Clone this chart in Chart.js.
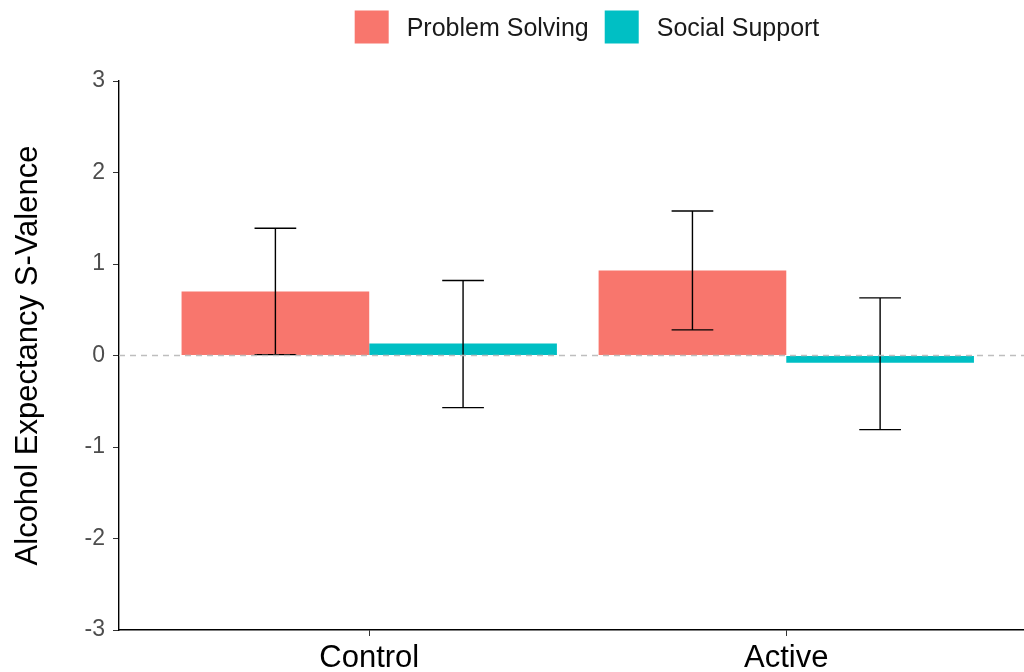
<!DOCTYPE html>
<html lang="en">
<head>
    <meta charset="UTF-8">
    <title>Alcohol Expectancy S-Valence</title>
    <script src="https://cdn.jsdelivr.net/npm/chart.js"></script>
    <style>
        html, body { margin: 0; padding: 0; background: #fff; }
        .chart-container { position: relative; width: 1024px; height: 672px; }
    </style>
</head>
<body>
    <div class="chart-container">
        <canvas id="barChart" width="1024" height="672"></canvas>
    </div>

    <script>
        // Data
        const categories = ['Control', 'Active'];
        const categoryPos = [1, 2];
        const seriesNames = ['Problem Solving', 'Social Support'];
        const seriesColors = ['#F8766D', '#00BFC4'];

        const problemSolving = [0.70, 0.93];
        const problemSolvingLow = [0.01, 0.28];
        const problemSolvingHigh = [1.39, 1.58];

        const socialSupport = [0.13, -0.08];
        const socialSupportLow = [-0.57, -0.81];
        const socialSupportHigh = [0.82, 0.63];

        const yTicks = [-3, -2, -1, 0, 1, 2, 3];

        const fontFamily = 'Arial, "Liberation Sans", sans-serif';

        function toPoints(values) {
            return values.map((v, i) => ({ x: categoryPos[i], y: v }));
        }

        // Error bars drawn through the chart's own scales
        const errorBars = {
            id: 'errorBars',
            afterDatasetsDraw(chart) {
                const ctx = chart.ctx;
                const y = chart.scales.y;
                ctx.save();
                ctx.strokeStyle = '#000';
                ctx.lineWidth = 1.4;
                chart.data.datasets.forEach((ds, di) => {
                    const meta = chart.getDatasetMeta(di);
                    meta.data.forEach((bar, i) => {
                        const x = bar.x;
                        const hw = (chart.scales.x.getPixelForValue(1.05) - chart.scales.x.getPixelForValue(1));
                        const yLo = y.getPixelForValue(ds.errLow[i]);
                        const yHi = y.getPixelForValue(ds.errHigh[i]);
                        ctx.beginPath();
                        ctx.moveTo(x, yLo); ctx.lineTo(x, yHi);
                        ctx.moveTo(x - hw, yLo); ctx.lineTo(x + hw, yLo);
                        ctx.moveTo(x - hw, yHi); ctx.lineTo(x + hw, yHi);
                        ctx.stroke();
                    });
                });
                // dashed reference line at zero
                const y0 = y.getPixelForValue(0);
                ctx.strokeStyle = '#BEBEBE';
                ctx.lineWidth = 1.5;
                ctx.setLineDash([6, 5]);
                ctx.beginPath();
                ctx.moveTo(chart.chartArea.left, y0);
                ctx.lineTo(chart.chartArea.right, y0);
                ctx.stroke();
                ctx.restore();
            }
        };

        // Legend at the top, ggplot style
        const topLegend = {
            id: 'topLegend',
            afterDraw(chart) {
                const ctx = chart.ctx;
                ctx.save();
                ctx.font = '25px ' + fontFamily;
                ctx.textBaseline = 'middle';
                const box = 34, gapText = 18, gapItem = 16;
                const widths = seriesNames.map(n => ctx.measureText(n).width);
                let total = 0;
                widths.forEach((w, i) => { total += box + gapText + w + (i < widths.length - 1 ? gapItem : 0); });
                let x = 587 - total / 2;
                const yc = 27;
                seriesNames.forEach((name, i) => {
                    ctx.fillStyle = seriesColors[i];
                    ctx.fillRect(x, yc - 16.5, box, 33);
                    x += box + gapText;
                    ctx.fillStyle = '#1A1A1A';
                    ctx.fillText(name, x, yc + 2);
                    x += widths[i] + gapItem;
                });
                ctx.restore();
            }
        };

        const ctx = document.getElementById('barChart').getContext('2d');
        new Chart(ctx, {
            type: 'bar',
            data: {
                datasets: [
                    {
                        label: seriesNames[0],
                        data: toPoints(problemSolving),
                        errLow: problemSolvingLow,
                        errHigh: problemSolvingHigh,
                        backgroundColor: seriesColors[0],
                        categoryPercentage: 0.9,
                        barPercentage: 1.0
                    },
                    {
                        label: seriesNames[1],
                        data: toPoints(socialSupport),
                        errLow: socialSupportLow,
                        errHigh: socialSupportHigh,
                        backgroundColor: seriesColors[1],
                        categoryPercentage: 0.9,
                        barPercentage: 1.0
                    }
                ]
            },
            options: {
                responsive: false,
                animation: false,
                devicePixelRatio: 1,
                layout: { padding: { top: 81, right: 0, left: 0, bottom: 0 } },
                plugins: {
                    legend: { display: false },
                    tooltip: { enabled: false }
                },
                scales: {
                    x: {
                        type: 'linear',
                        min: 0.4,
                        max: 2.57,
                        offset: false,
                        afterBuildTicks(scale) {
                            scale.ticks = categoryPos.map(v => ({ value: v }));
                        },
                        afterFit(scale) { scale.height = 42; },
                        grid: {
                            offset: false,
                            drawOnChartArea: false,
                            drawTicks: true,
                            tickLength: 6,
                            tickColor: '#333'
                        },
                        border: { display: true, color: '#000', width: 1.4 },
                        ticks: {
                            autoSkip: false,
                            maxRotation: 0,
                            padding: 4,
                            color: '#000',
                            font: { family: fontFamily, size: 31 },
                            callback: (v) => categories[categoryPos.indexOf(v)] || ''
                        }
                    },
                    y: {
                        min: -3,
                        max: 3,
                        afterBuildTicks(scale) {
                            scale.ticks = yTicks.map(v => ({ value: v }));
                        },
                        afterFit(scale) { scale.width = 119; },
                        grid: {
                            drawOnChartArea: false,
                            drawTicks: true,
                            tickLength: 6,
                            tickColor: '#333'
                        },
                        border: { display: true, color: '#000', width: 1.4 },
                        ticks: {
                            padding: 8,
                            color: '#4D4D4D',
                            font: { family: fontFamily, size: 23 }
                        },
                        title: {
                            display: true,
                            text: 'Alcohol Expectancy S-Valence',
                            color: '#000',
                            padding: { top: 10, bottom: 0 },
                            font: { family: fontFamily, size: 31 }
                        }
                    }
                }
            },
            plugins: [errorBars, topLegend]
        });
    </script>
</body>
</html>
